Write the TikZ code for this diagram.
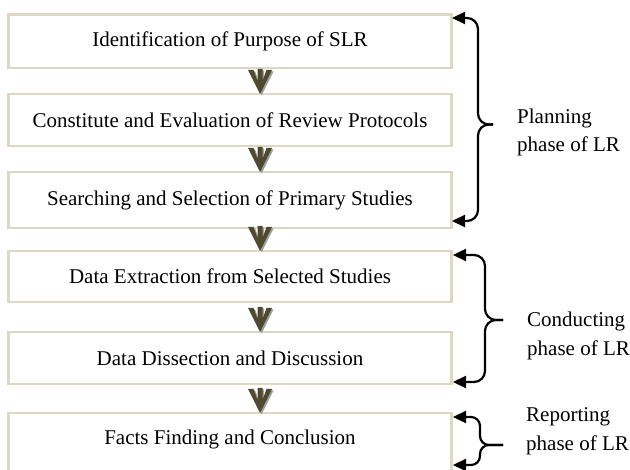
\documentclass[tikz,border=0pt]{standalone}
\usepackage{fontspec}
\setmainfont{Liberation Serif}
\usetikzlibrary{arrows.meta,calc}
\definecolor{boxline}{RGB}{221,216,196}
\definecolor{chevfill}{RGB}{78,73,48}
\definecolor{chevshadow}{RGB}{160,160,160}
\begin{document}
\begin{tikzpicture}[x=1pt,y=-1pt,
  stepbox/.style={draw=boxline, line width=2.4pt, minimum width=443pt, inner sep=0pt, outer sep=0pt,
    font=\fontsize{21}{28}\selectfont},
  phase/.style={align=left, anchor=west, inner sep=0pt, font=\fontsize{21}{28.5}\selectfont},
  brace/.style={line width=2.2pt, line join=round, rounded corners=11pt, black},
  >={Triangle[length=13pt,width=12pt]},
  chev/.pic={
    \begin{scope}[shift={(1.6,1.4)}]
      \fill[chevshadow] (-12,-24) -- (-6.5,-24) -- (-2.5,-13) -- (-2.5,-25) -- (2.5,-25) -- (2.5,-13)
        -- (6.5,-24) -- (12,-24) -- (0,0) -- cycle;
    \end{scope}
    \fill[chevfill] (-12,-24) -- (-6.5,-24) -- (-2.5,-13) -- (-2.5,-25) -- (2.5,-25) -- (2.5,-13)
        -- (6.5,-24) -- (12,-24) -- (0,0) -- cycle;
  }]
\useasboundingbox (0,0) rectangle (630,470);

% boxes
\node[stepbox, minimum height=53.5pt] (b1) at (230,41.25) {Identification of Purpose of SLR};
\node[stepbox, minimum height=52pt]   (b2) at (230,120)   {Constitute and Evaluation of Review Protocols};
\node[stepbox, minimum height=56pt]   (b3) at (230,200)   {Searching and Selection of Primary Studies};
\node[stepbox, minimum height=51pt]   (b4) at (230,276.5) {Data Extraction from Selected Studies};
\node[stepbox, minimum height=52pt]   (b5) at (230,358)   {Data Dissection and Discussion};
\node[stepbox, minimum height=63pt, text depth=15.5pt] (b6) at (230,444.5) {Facts Finding and Conclusion};

% chevron arrows between boxes
\pic at ($(b2.north)+(30,0)$) {chev};
\pic at ($(b3.north)+(30,0)$) {chev};
\pic at ($(b4.north)+(30,0)$) {chev};
\pic at ($(b5.north)+(30,0)$) {chev};
\pic at ($(b6.north)+(30,0)$) {chev};

% brace coordinates
\coordinate (pA) at (452,18);
\coordinate (pM) at (493,124.5);
\coordinate (pB) at (452,221);
\coordinate (cA) at (453,255);
\coordinate (cM) at (503,320);
\coordinate (cB) at (453,382);
\coordinate (rA) at (453,417);
\coordinate (rM) at (503,445);
\coordinate (rB) at (453,465);

% planning brace
\draw[brace,<-] (pA) -- (pA -| 478,0) -- (pM -| 478,0) -- (pM);
\draw[brace,->] (pM) -- (pM -| 478,0) -- (pB -| 478,0) -- (pB);
% conducting brace
\draw[brace,<-] (cA) -- (cA -| 485,0) -- (cM -| 485,0) -- (cM);
\draw[brace,->] (cM) -- (cM -| 485,0) -- (cB -| 485,0) -- (cB);
% reporting brace
\draw[brace,<-,rounded corners=9pt] (rA) -- (rA -| 480,0) -- (rM -| 480,0) -- (rM);
\draw[brace,->,rounded corners=9pt] (rM) -- (rM -| 480,0) -- (rB -| 480,0) -- (rB);

% phase labels
\node[phase] (lp) at (517,132.5) {Planning\\phase of LR};
\node[phase] (lc) at (527,336) {Conducting\\phase of LR};
\node[phase] (lr) at (526,431.5) {Reporting\\phase of LR};
\end{tikzpicture}
\end{document}
